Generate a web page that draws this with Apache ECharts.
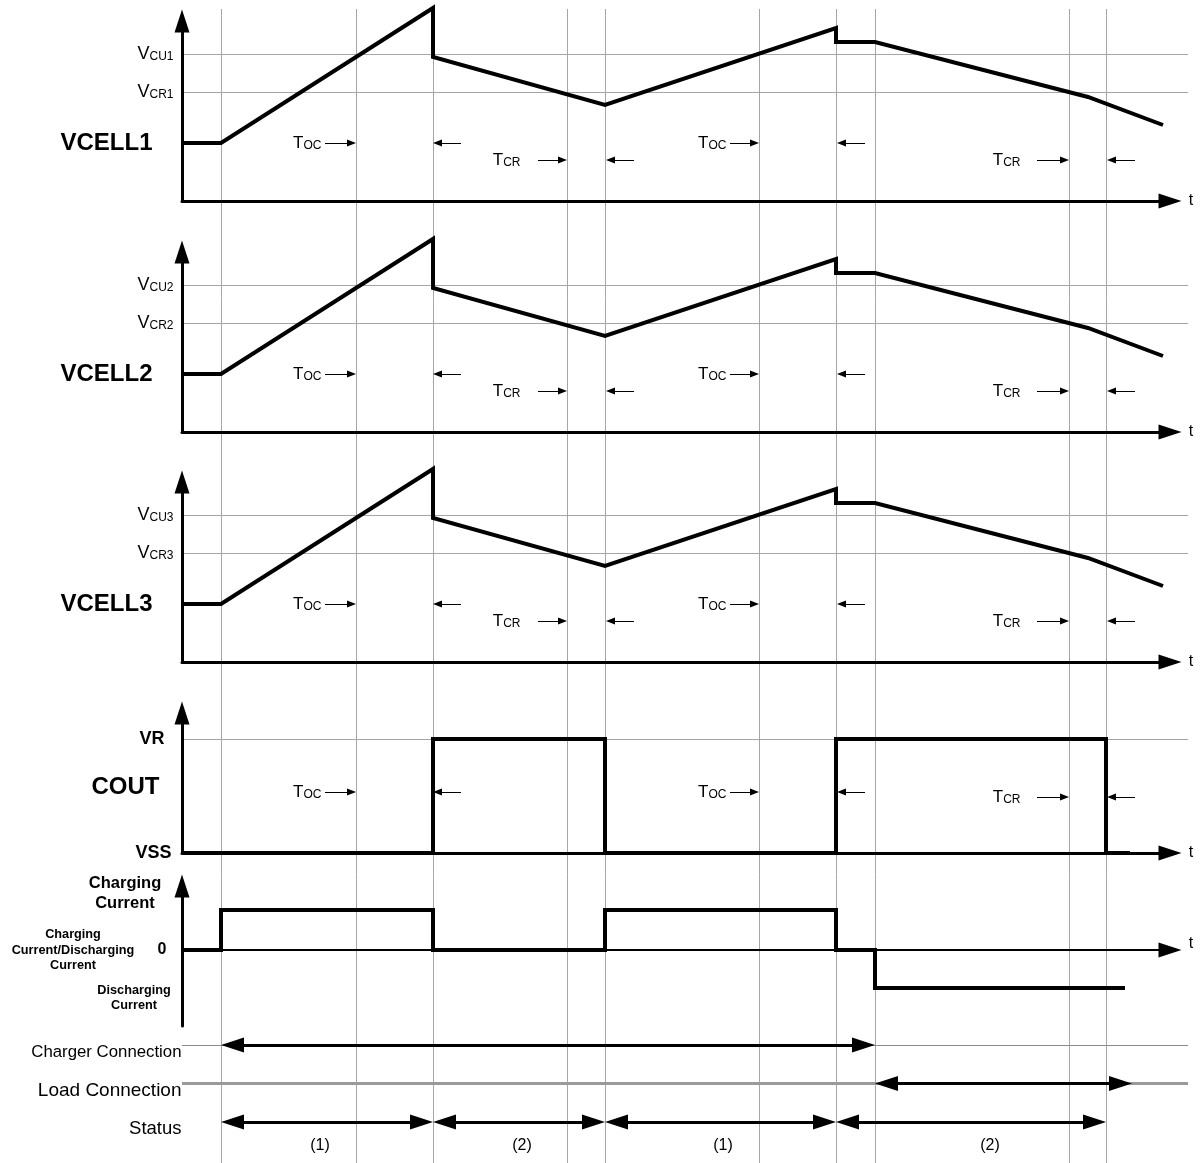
<!DOCTYPE html>
<html>
<head>
<meta charset="utf-8">
<script src="https://cdn.jsdelivr.net/npm/echarts@6/dist/echarts.min.js"></script>
<style>html,body{margin:0;padding:0;background:#fff}#c{width:1204px;height:1163px}</style>
</head>
<body>
<div id="c"></div>
<script>
// ---------------- data (time in arbitrary units, values in arbitrary units) ----------------
const markerTimes = [3.9, 17.4, 25.1, 38.5, 42.3, 57.7, 65.4, 69.3, 88.7, 92.4];

// VCELL waveform (same shape for the three cells)
const vcellTime  = [0, 3.9, 25.1, 25.1, 42.3, 65.4, 65.4, 69.3, 90.6, 98.1];
const vcellValue = [5.8, 5.8, 19.3, 14.4, 9.6, 17.3, 15.9, 15.9, 10.4, 7.6];
const vcuLevel = 14.7;
const vcrLevel = 10.9;
const cellNameLevel = 5.8;
const cellNames = ['VCELL1', 'VCELL2', 'VCELL3'];
const vcuSubs = ['CU1', 'CU2', 'CU3'];
const vcrSubs = ['CR1', 'CR2', 'CR3'];

// COUT waveform
const coutTime  = [0, 25.1, 25.1, 42.3, 42.3, 65.4, 65.4, 92.4, 92.4, 94.8];
const coutValue = [0, 0, 11.4, 11.4, 0, 0, 11.4, 11.4, 0, 0];
const vrLevel = 11.4;
const coutNameLevel = 6.6;

// Charging / discharging current waveform
const currentTime  = [0, 3.9, 3.9, 25.1, 25.1, 42.3, 42.3, 65.4, 65.4, 69.3, 69.3, 94.3];
const currentValue = [0, 0, 4.0, 4.0, 0, 0, 4.0, 4.0, 0, 0, -3.8, -3.8];

// timing annotations: [label right edge, arrow tail, arrow tip]
const tocMarks = [[14.1, 14.3, 17.4], [54.6, 54.8, 57.7]];
const tcrMarks = [[34.0, 35.6, 38.5], [84.0, 85.5, 88.7]];
// return arrows: [tip, tail]
const tocReturns = [[25.1, 27.9], [65.5, 68.3]];
const tcrReturns = [[42.4, 45.2], [92.5, 95.3]];
const cellTocLevel = 5.8, cellTcrLevel = 4.1;
const coutTocLevel = 6.1, coutTcrLevel = 5.6;

// bottom rows
const rowNames = ['Charger Connection', 'Load Connection', 'Status'];
const chargerSpan = [3.9, 69.3];
const loadSpan = [69.3, 95.0];
const statusSpans = [[3.9, 25.1], [25.1, 42.3], [42.3, 65.4], [65.4, 92.4]];
const statusLabels = ['(1)', '(2)', '(1)', '(2)'];
const statusLabelTimes = [13.8, 34.0, 54.1, 80.8];
const statusLabelRow = 3.6;

// ---------------- layout ----------------
const FONT = '"Liberation Sans", Arial, Helvetica, sans-serif';
const GRID_LEFT = 182, PX_PER_T = 10, T_MAX = 98.8, W = T_MAX * PX_PER_T;
const panelBoxes = [
  {top: 21,  yMin: 0,    yMax: 18},
  {top: 252, yMin: 0,    yMax: 18},
  {top: 482, yMin: 0,    yMax: 18},
  {top: 713, yMin: 0,    yMax: 14},
  {top: 886, yMin: -7.6, yMax: 6.4}
];
const ROW_PX = 38.5, ROW_TOP = 1045 - 0.5 * ROW_PX;
const GRAY = '#a6a6a6';

const grids = [{left: GRID_LEFT, top: 9, width: W, height: 1154}];
panelBoxes.forEach(p => grids.push({left: GRID_LEFT, top: p.top, width: W, height: (p.yMax - p.yMin) * PX_PER_T}));
grids.push({left: GRID_LEFT, top: ROW_TOP, width: W, height: 3.5 * ROW_PX});
grids.forEach(g => { g.containLabel = false; g.outerBoundsMode = 'none'; });

function axisLine(w) {
  return {show: true, onZero: true, symbol: ['none', 'triangle'], symbolSize: [15, 23],
          lineStyle: {color: '#000', width: w}};
}
const xAxes = grids.map((g, i) => ({
  gridIndex: i, type: 'value', min: 0, max: T_MAX, show: i >= 1 && i <= 5,
  axisLine: axisLine(i === 5 ? 2 : 3), axisTick: {show: false}, axisLabel: {show: false},
  splitLine: {show: false}, z: 3
}));
const yAxes = grids.map((g, i) => {
  if (i === 0) return {gridIndex: 0, type: 'value', min: 0, max: 1, show: false};
  if (i === 6) return {gridIndex: 6, type: 'value', min: 0.5, max: 4, inverse: true, show: false};
  const p = panelBoxes[i - 1];
  return {gridIndex: i, type: 'value', min: p.yMin, max: p.yMax, axisLine: axisLine(3),
          axisTick: {show: false}, axisLabel: {show: false}, splitLine: {show: false}, z: 3};
});

// ---------------- series builders ----------------
const series = [];
function pts(ts, vs) { return ts.map((t, i) => [t, vs[i]]); }
function wave(gi, ts, vs) {
  series.push({type: 'line', xAxisIndex: gi, yAxisIndex: gi, data: pts(ts, vs), symbol: 'none',
    showSymbol: false, clip: false, silent: true, z: 5, animation: false,
    lineStyle: {color: '#000', width: 4, join: 'miter', cap: 'butt'}});
}
function segs(gi, list, color, width, z) {
  series.push({type: 'lines', coordinateSystem: 'cartesian2d', xAxisIndex: gi, yAxisIndex: gi,
    clip: false, silent: true, symbol: 'none', z: z || 1,
    lineStyle: {color: color, width: width, opacity: 1, curveness: 0},
    data: list.map(c => ({coords: c}))});
}
function arrow(gi, from, to, y, size, width, both) {
  const dir = Math.sign(to - from);
  const inset = size[1] / 2 / PX_PER_T;
  const a = both ? from + dir * inset : from;
  const b = to - dir * inset;
  series.push({type: 'lines', coordinateSystem: 'cartesian2d', xAxisIndex: gi, yAxisIndex: gi,
    clip: false, silent: true, z: 6,
    symbol: [both ? 'triangle' : 'none', 'triangle'], symbolSize: [size, size],
    lineStyle: {color: '#000', width: width, opacity: 1, curveness: 0},
    data: [{coords: [[a, y], [b, y]]}]});
}
function texts(gi, items) {
  series.push({type: 'scatter', xAxisIndex: gi, yAxisIndex: gi, clip: false, silent: true, z: 7,
    symbolSize: 1, itemStyle: {color: 'rgba(0,0,0,0)', opacity: 1},
    data: items.map(it => ({value: [it.x, it.y],
      label: Object.assign({show: true, color: '#000', opacity: 1, fontFamily: FONT, formatter: () => it.text}, it.label)}))});
}
const levelRich = {
  big: {fontSize: 18, fontFamily: FONT, color: '#000', verticalAlign: 'bottom'},
  sm:  {fontSize: 12, fontFamily: FONT, color: '#000', verticalAlign: 'bottom'}
};
const tRich = {
  big: {fontSize: 17, fontFamily: FONT, color: '#000', verticalAlign: 'bottom'},
  sm:  {fontSize: 12, fontFamily: FONT, color: '#000', verticalAlign: 'bottom'}
};
const SMALL_ARROW = [7, 9], BIG_ARROW = [15, 23];

// background vertical reference lines
segs(0, markerTimes.map(t => [[t, 0], [t, 1]]), GRAY, 1, 0);

// timing annotations helper
function timing(gi, tocLevel, tcrLevel, tocList, tcrList, tocRet, tcrRet) {
  const items = [];
  tocList.forEach(m => {
    items.push({x: m[0], y: tocLevel, text: '{big|T}{sm|OC}', label: {position: 'left', distance: 1, rich: tRich}});
    arrow(gi, m[1], m[2], tocLevel, SMALL_ARROW, 1, false);
  });
  tcrList.forEach(m => {
    items.push({x: m[0], y: tcrLevel, text: '{big|T}{sm|CR}', label: {position: 'left', distance: 1, rich: tRich}});
    arrow(gi, m[1], m[2], tcrLevel, SMALL_ARROW, 1, false);
  });
  tocRet.forEach(r => arrow(gi, r[1], r[0], tocLevel, SMALL_ARROW, 1, false));
  tcrRet.forEach(r => arrow(gi, r[1], r[0], tcrLevel, SMALL_ARROW, 1, false));
  return items;
}

// ---- VCELL panels ----
for (let k = 0; k < 3; k++) {
  const gi = k + 1;
  segs(gi, [[[0, vcuLevel], [100.6, vcuLevel]], [[0, vcrLevel], [100.6, vcrLevel]]], GRAY, 1, 1);
  wave(gi, vcellTime, vcellValue);
  const items = timing(gi, cellTocLevel, cellTcrLevel, tocMarks, tcrMarks, tocReturns, tcrReturns);
  items.push(
    {x: 0, y: cellNameLevel, text: cellNames[k], label: {position: 'left', distance: 29, fontSize: 24, fontWeight: 'bold'}},
    {x: 0, y: vcuLevel, text: '{big|V}{sm|' + vcuSubs[k] + '}', label: {position: 'left', distance: 8, rich: levelRich}},
    {x: 0, y: vcrLevel, text: '{big|V}{sm|' + vcrSubs[k] + '}', label: {position: 'left', distance: 8, rich: levelRich}},
    {x: 100.9, y: 0, text: 't', label: {position: 'inside', fontSize: 16}}
  );
  texts(gi, items);
}

// ---- COUT panel ----
(function () {
  const gi = 4;
  segs(gi, [[[0, vrLevel], [100.6, vrLevel]]], GRAY, 1, 1);
  wave(gi, coutTime, coutValue);
  const items = timing(gi, coutTocLevel, coutTcrLevel, tocMarks, [tcrMarks[1]], tocReturns, [tcrReturns[1]]);
  items.push(
    {x: 0, y: coutNameLevel, text: 'COUT', label: {position: 'left', distance: 22, fontSize: 24, fontWeight: 'bold'}},
    {x: 0, y: vrLevel, text: 'VR', label: {position: 'left', distance: 17, fontSize: 18, fontWeight: 'bold'}},
    {x: 0, y: 0, text: 'VSS', label: {position: 'left', distance: 10, fontSize: 18, fontWeight: 'bold'}},
    {x: 100.9, y: 0, text: 't', label: {position: 'inside', fontSize: 16}}
  );
  texts(gi, items);
})();

// ---- Current panel ----
(function () {
  const gi = 5;
  wave(gi, currentTime, currentValue);
  texts(gi, [
    {x: -5.7, y: 5.7, text: 'Charging\nCurrent', label: {position: 'inside', align: 'center', fontSize: 16.5, fontWeight: 'bold', lineHeight: 20}},
    {x: -10.9, y: 0, text: 'Charging\nCurrent/Discharging\nCurrent', label: {position: 'inside', align: 'center', fontSize: 12.7, fontWeight: 'bold', lineHeight: 15.5}},
    {x: -4.8, y: -4.8, text: 'Discharging\nCurrent', label: {position: 'inside', align: 'center', fontSize: 12.7, fontWeight: 'bold', lineHeight: 15}},
    {x: 0, y: 0, text: '0', label: {position: 'left', distance: 15, fontSize: 16, fontWeight: 'bold'}},
    {x: 100.9, y: 0.6, text: 't', label: {position: 'inside', fontSize: 16}}
  ]);
})();

// ---- Bottom rows ----
(function () {
  const gi = 6;
  segs(gi, [[[0, 1], [100.6, 1]]], '#8c8c8c', 1, 1);
  segs(gi, [[[0, 2], [100.6, 2]]], '#9a9a9a', 3, 1);
  arrow(gi, chargerSpan[0], chargerSpan[1], 1, BIG_ARROW, 3, true);
  arrow(gi, loadSpan[0], loadSpan[1], 2, BIG_ARROW, 3, true);
  statusSpans.forEach(s => arrow(gi, s[0], s[1], 3, BIG_ARROW, 3, true));
  const items = [
    {x: 0, y: 1, text: rowNames[0], label: {position: 'left', distance: 0, fontSize: 16.8, offset: [0, 7]}},
    {x: 0, y: 2, text: rowNames[1], label: {position: 'left', distance: 0, fontSize: 19, offset: [0, 7]}},
    {x: 0, y: 3, text: rowNames[2], label: {position: 'left', distance: 0, fontSize: 18.5, offset: [0, 7]}}
  ];
  statusLabels.forEach((s, i) => items.push({x: statusLabelTimes[i], y: statusLabelRow, text: s, label: {position: 'inside', fontSize: 16}}));
  texts(gi, items);
})();

const chart = echarts.init(document.getElementById('c'), null, {renderer: 'canvas'});
chart.setOption({
  backgroundColor: '#ffffff',
  animation: false,
  grid: grids,
  xAxis: xAxes,
  yAxis: yAxes,
  series: series
});
</script>
</body>
</html>
